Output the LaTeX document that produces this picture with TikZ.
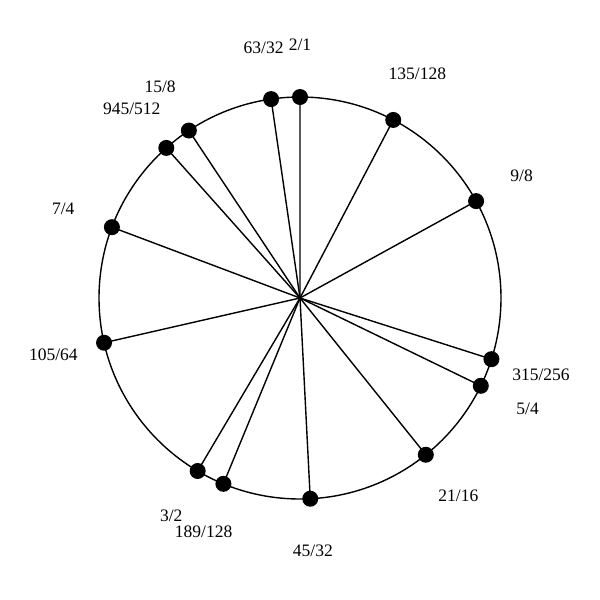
\documentclass[tikz,border=0pt]{standalone}
\usepackage{fontspec}
\setmainfont{Liberation Serif}
\begin{document}
\begin{tikzpicture}[x=1pt,y=-1pt,
  dot/.style={circle,fill=black,inner sep=0pt,minimum size=16pt},
  lab/.style={font=\fontsize{17.5}{20}\selectfont,inner sep=0pt},
  ln/.style={line width=1.4pt}]
\useasboundingbox (0,0) rectangle (600,600);
\coordinate (c) at (300,298);
\draw[ln] (c) circle (201);
\foreach \n/\t [count=\i] in {2/1, 135/128, 9/8, 315/256, 5/4, 21/16, 45/32, 189/128, 3/2, 105/64, 7/4, 945/512, 15/8, 63/32}{
  \pgfmathsetmacro{\th}{360*ln(\n/\t)/ln(2)}
  \pgfmathsetmacro{\px}{300+201*sin(\th)}
  \pgfmathsetmacro{\py}{298-201*cos(\th)}
  \pgfmathsetmacro{\lx}{300+253*sin(\th)}
  \pgfmathsetmacro{\ly}{298-253*cos(\th)}
  \node[dot] (p\i) at (\px,\py) {};
  \node[lab] (l\i) at (\lx,\ly) {\n/\t};
  \draw[ln] (c) -- (p\i.center);
}
\end{tikzpicture}
\end{document}
